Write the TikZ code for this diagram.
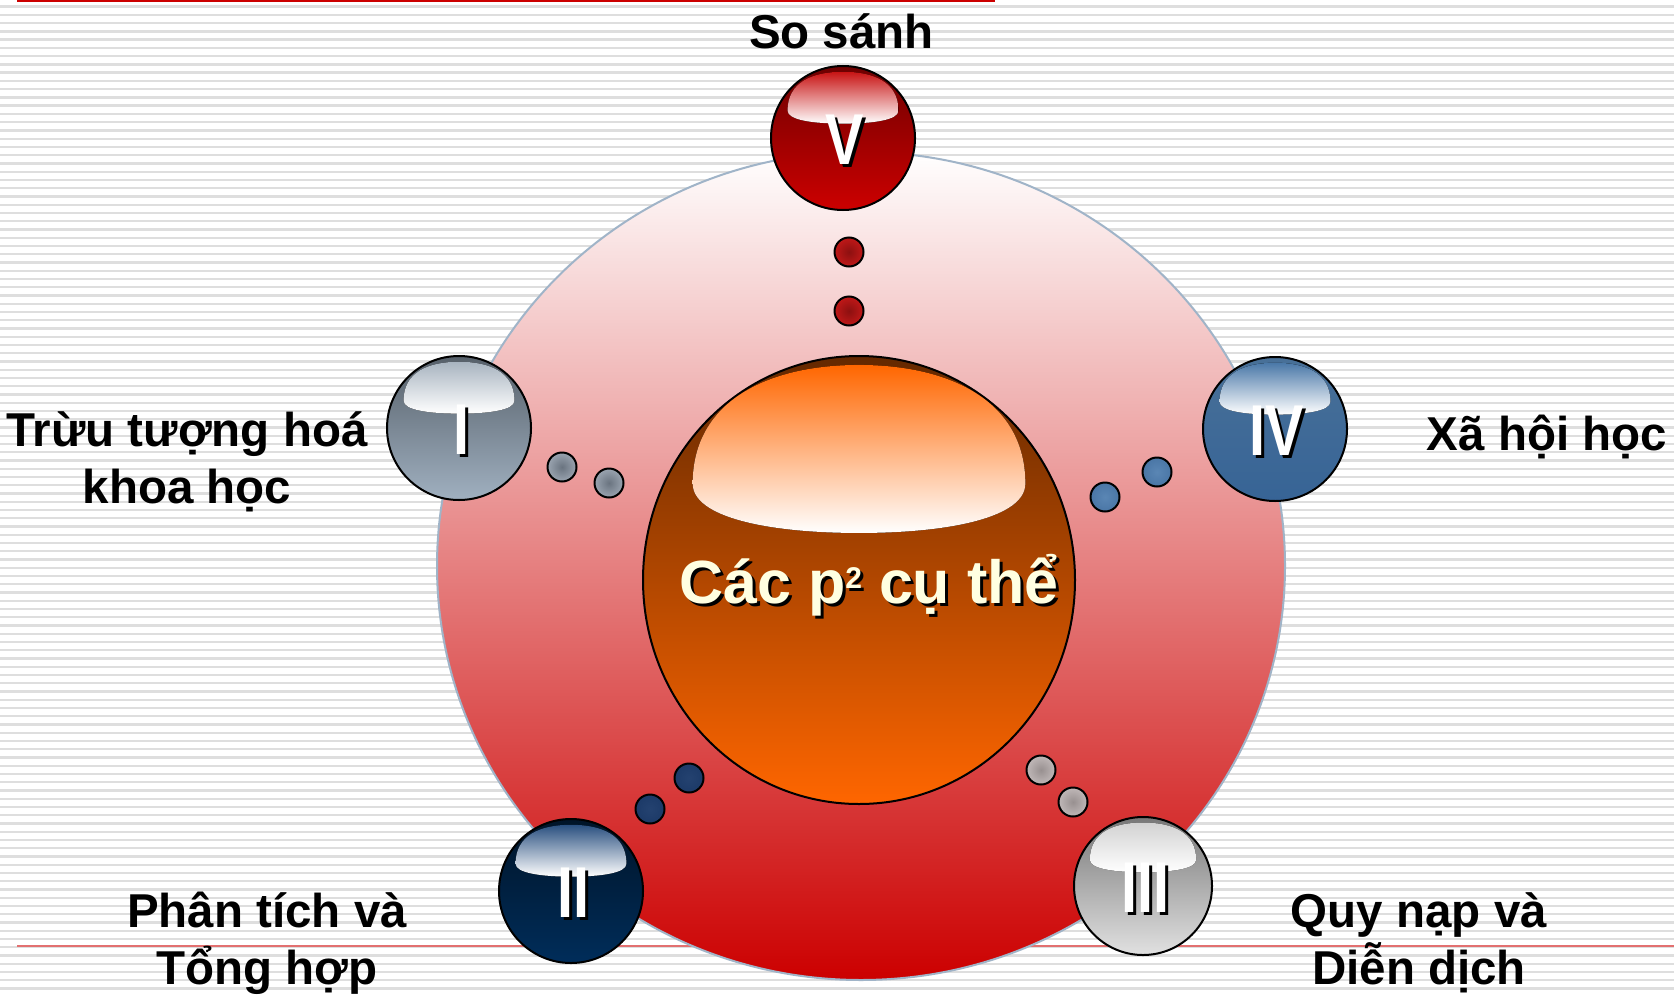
\documentclass[tikz,border=0pt]{standalone}
\usepackage{fontspec}
\usepackage{graphicx}
\setmainfont{Liberation Sans}
\usetikzlibrary{shapes.geometric}
\definecolor{topred}{RGB}{204,0,0}
\definecolor{pinkline}{RGB}{226,112,112}
\definecolor{stripegray}{RGB}{222,222,222}
\definecolor{bigred}{RGB}{204,0,0}
\definecolor{rimblue}{RGB}{160,180,200}
\definecolor{coredark}{RGB}{100,40,0}
\definecolor{coreorange}{RGB}{255,102,0}
\definecolor{hlorange}{RGB}{255,102,0}
\definecolor{cream}{RGB}{255,255,225}
% sphere colours
\definecolor{vtop}{RGB}{110,0,0}\definecolor{vbot}{RGB}{204,0,0}\definecolor{vhl}{RGB}{200,20,20}
\definecolor{itop}{RGB}{86,96,106}\definecolor{ibot}{RGB}{160,176,192}\definecolor{ihl}{RGB}{168,180,192}
\definecolor{ivtop}{RGB}{72,112,152}\definecolor{ivbot}{RGB}{55,100,150}\definecolor{ivhl}{RGB}{74,120,168}
\definecolor{iitop}{RGB}{0,20,40}\definecolor{iibot}{RGB}{0,45,90}\definecolor{iihl}{RGB}{42,80,128}
\definecolor{iiitop}{RGB}{120,120,120}\definecolor{iiibot}{RGB}{225,225,225}\definecolor{iiihl}{RGB}{210,210,210}
% dot colours
\definecolor{vdotout}{RGB}{192,24,24}\definecolor{vdotin}{RGB}{140,16,16}
\definecolor{idotout}{RGB}{154,164,176}\definecolor{idotin}{RGB}{106,116,128}
\definecolor{ivdotout}{RGB}{74,118,166}\definecolor{ivdotin}{RGB}{90,134,180}
\definecolor{iidotout}{RGB}{28,58,104}\definecolor{iidotin}{RGB}{36,66,112}
\definecolor{iiidotout}{RGB}{192,184,184}\definecolor{iiidotin}{RGB}{152,144,144}

\tikzset{
  every node/.style={inner sep=0pt, outer sep=0pt},
  lab/.style={font=\fontsize{23.75}{28.5}\selectfont\bfseries, anchor=base, text=black},
  num/.style={font=\fontsize{36}{38}\selectfont\bfseries},
  ctext/.style={font=\fontsize{30.5}{34}\selectfont\bfseries, anchor=base},
  dotball/.style={circle, minimum size=14.5pt, draw=black, line width=1pt},
  ball/.style={circle, draw=black, line width=1pt},
  stripe/.style={line width=1.2pt, color=stripegray},
}
\newcommand\supsq{\raisebox{7.5pt}{\fontsize{15}{15}\selectfont 2}}

% #1 name, #2 x, #3 y, #4 radius (px), #5 top colour, #6 bottom colour, #7 highlight colour, #8 label
\newcommand\ballsphere[8]{%
  \node[ball, minimum size=#4pt, top color=#5, bottom color=#6] (#1) at (#2,#3) {};
  \begin{scope}[shift={(#1.center)}, x=#4*0.5pt, y=#4*0.5pt]
    \fill[top color=#7, bottom color=white]
      (-0.77,0.38) .. controls (-0.77,0.78) and (-0.42,0.92) .. (0,0.92)
      .. controls (0.42,0.92) and (0.77,0.78) .. (0.77,0.38)
      .. controls (0.77,0.25) and (0.42,0.2) .. (0,0.2)
      .. controls (-0.42,0.2) and (-0.77,0.25) .. (-0.77,0.38) -- cycle;
  \end{scope}
  \node[num, text=black, xshift=2.5pt, yshift=-2.5pt] (#1sh) at (#1.center) {\scalebox{0.8}[1]{#8}};
  \node[num, text=white, xshift=1pt, yshift=-1pt] (#1t) at (#1.center) {\scalebox{0.8}[1]{#8}};
}

\begin{document}
\begin{tikzpicture}[x=0.5pt, y=-0.5pt]
\useasboundingbox (0,0) rectangle (1674,995);
% background
\fill[white] (0,0) rectangle (1674,995);
\foreach \k in {0,...,120} {\draw[stripe] (0,{6.7+8.25*\k}) -- (1674,{6.7+8.25*\k});}
\draw[line width=1.25pt, topred] (17,1.2) -- (995,1.2);
\draw[line width=1pt, pinkline] (17,946) -- (1674,946);

% big ring disc
\node[ellipse, minimum width=424pt, minimum height=414pt, top color=white, bottom color=bigred, draw=rimblue, line width=1pt] (ring) at (861,566) {};

% central sphere
\node[ellipse, draw=black, line width=1pt, minimum width=216pt, minimum height=224pt, top color=coredark, bottom color=coreorange] (core) at (859,580) {};
\begin{scope}[shift={(core.center)}, x=108pt, y=112pt]
  \fill[top color=hlorange, bottom color=white]
    (-0.77,0.43) .. controls (-0.77,0.8) and (-0.42,0.96) .. (0,0.96)
    .. controls (0.42,0.96) and (0.77,0.8) .. (0.77,0.43)
    .. controls (0.77,0.28) and (0.42,0.21) .. (0,0.21)
    .. controls (-0.42,0.21) and (-0.77,0.28) .. (-0.77,0.43) -- cycle;
\end{scope}
\node[ctext, text=black] (coreshadow) at (872,606) {Các p\supsq{} cụ thể};
\node[ctext, text=cream] (coretext) at (869,603) {Các p\supsq{} cụ thể};

% small dots
\node[dotball, inner color=vdotin, outer color=vdotout] (d5a) at (849,252) {};
\node[dotball, inner color=vdotin, outer color=vdotout] (d5b) at (849,311) {};
\node[dotball, inner color=idotin, outer color=idotout] (d1a) at (562,467) {};
\node[dotball, inner color=idotin, outer color=idotout] (d1b) at (609,483) {};
\node[dotball, inner color=ivdotin, outer color=ivdotout] (d4a) at (1157,472) {};
\node[dotball, inner color=ivdotin, outer color=ivdotout] (d4b) at (1105,497) {};
\node[dotball, inner color=iidotin, outer color=iidotout] (d2a) at (689,778) {};
\node[dotball, inner color=iidotin, outer color=iidotout] (d2b) at (650,809) {};
\node[dotball, inner color=iiidotin, outer color=iiidotout] (d3a) at (1041,770) {};
\node[dotball, inner color=iiidotin, outer color=iiidotout] (d3b) at (1073,802) {};

% numbered spheres
\ballsphere{sV}{843}{138}{72}{vtop}{vbot}{vhl}{V}
\ballsphere{sI}{459}{428}{72}{itop}{ibot}{ihl}{I}
\ballsphere{sIV}{1275}{429}{72}{ivtop}{ivbot}{ivhl}{IV}
\ballsphere{sII}{571}{891}{72}{iitop}{iibot}{iihl}{II}
\ballsphere{sIII}{1143}{886}{69}{iiitop}{iiibot}{iiihl}{III}

% labels
\node[lab] (lV) at (841.5,49) {So sánh};
\node[lab] (lIa) at (187,446) {Trừu tượng hoá};
\node[lab] (lIb) at (187,503) {khoa học};
\node[lab] (lIV) at (1547,450) {Xã hội học};
\node[lab] (lIIa) at (267,927) {Phân tích và};
\node[lab] (lIIb) at (267,984) {Tổng hợp};
\node[lab] (lIIIa) at (1419,927) {Quy nạp và};
\node[lab] (lIIIb) at (1419,984) {Diễn dịch};
\end{tikzpicture}
\end{document}
